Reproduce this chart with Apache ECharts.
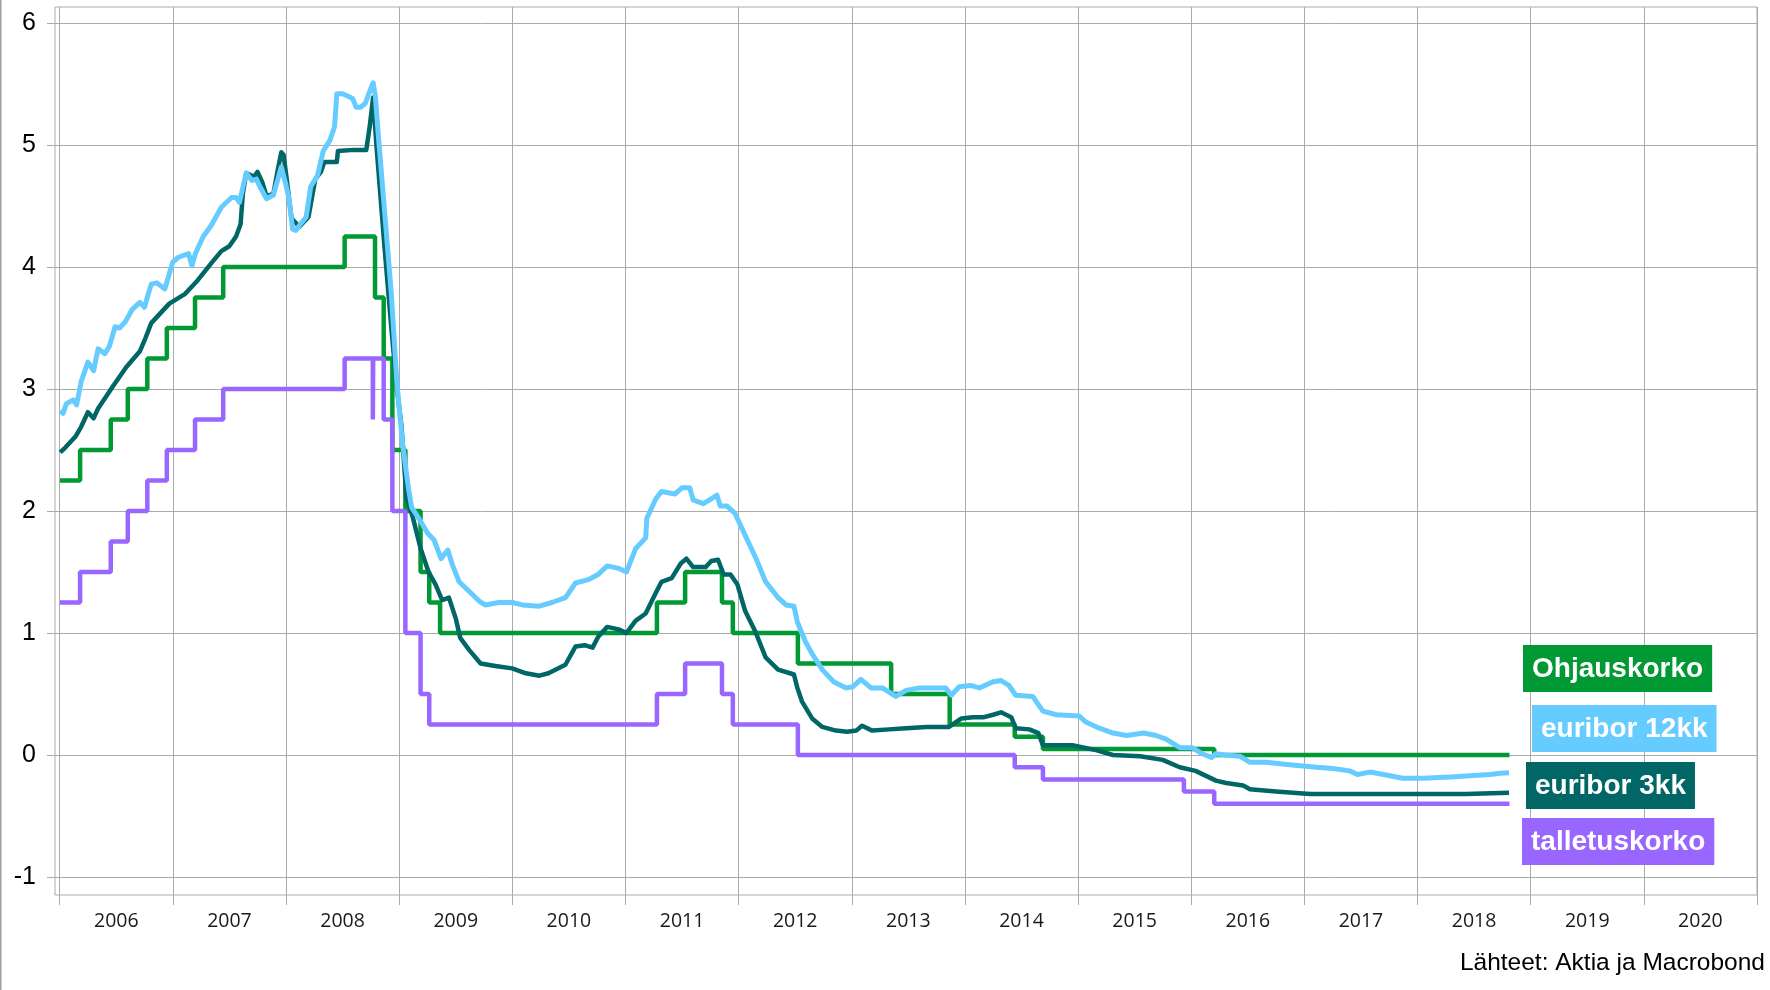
<!DOCTYPE html>
<html>
<head>
<meta charset="utf-8">
<script src="https://cdn.jsdelivr.net/npm/echarts@6/dist/echarts.min.js"></script>
<style>
html,body{margin:0;padding:0;background:#fff;}
#chart{width:1770px;height:990px;}
</style>
</head>
<body>
<div id="chart"></div>
<script>
// ---- DATA ----
const years = ['2006','2007','2008','2009','2010','2011','2012','2013','2014','2015','2016','2017','2018','2019','2020'];

// ECB main refinancing rate (Ohjauskorko): [date, value], value holds from date
const ohjauskorko = [
  ['2006-01-02',2.25],['2006-03-08',2.50],['2006-06-15',2.75],['2006-08-09',3.00],
  ['2006-10-11',3.25],['2006-12-13',3.50],['2007-03-14',3.75],['2007-06-13',4.00],
  ['2008-07-09',4.25],['2008-10-15',3.75],['2008-11-12',3.25],['2008-12-10',2.50],
  ['2009-01-21',2.00],['2009-03-11',1.50],['2009-04-08',1.25],['2009-05-13',1.00],
  ['2011-04-13',1.25],['2011-07-13',1.50],['2011-11-09',1.25],['2011-12-14',1.00],
  ['2012-07-11',0.75],['2013-05-08',0.50],['2013-11-13',0.25],['2014-06-11',0.15],
  ['2014-09-10',0.05],['2016-03-16',0.00],['2018-10-25',0.00]
];

// ECB deposit facility rate (talletuskorko)
const talletuskorko = [
  ['2006-01-02',1.25],['2006-03-08',1.50],['2006-06-15',1.75],['2006-08-09',2.00],
  ['2006-10-11',2.25],['2006-12-13',2.50],['2007-03-14',2.75],['2007-06-13',3.00],
  ['2008-07-09',3.25],['2008-10-08',2.75],['2008-10-09',3.25],['2008-11-12',2.75],
  ['2008-12-10',2.00],['2009-01-21',1.00],['2009-03-11',0.50],['2009-04-08',0.25],
  ['2011-04-13',0.50],['2011-07-13',0.75],['2011-11-09',0.50],['2011-12-14',0.25],
  ['2012-07-11',0.00],['2014-06-11',-0.10],['2014-09-10',-0.20],['2015-12-09',-0.30],
  ['2016-03-16',-0.40],['2018-10-25',-0.40]
];

// euribor 12kk: [decimal year, value]
const euribor12 = [
  [2006.005,2.82],[2006.03,2.80],[2006.06,2.88],[2006.12,2.91],[2006.15,2.87],[2006.19,3.06],
  [2006.25,3.22],[2006.30,3.15],[2006.34,3.33],[2006.40,3.29],[2006.44,3.35],[2006.49,3.51],
  [2006.53,3.50],[2006.58,3.55],[2006.64,3.65],[2006.71,3.71],[2006.75,3.67],[2006.81,3.86],
  [2006.86,3.87],[2006.93,3.82],[2007.00,4.04],[2007.05,4.08],[2007.14,4.11],[2007.17,4.01],
  [2007.20,4.11],[2007.27,4.25],[2007.34,4.34],[2007.43,4.49],[2007.52,4.57],[2007.56,4.57],
  [2007.59,4.53],[2007.65,4.77],[2007.70,4.71],[2007.74,4.72],[2007.77,4.66],[2007.83,4.56],
  [2007.89,4.59],[2007.93,4.72],[2007.96,4.82],[2008.00,4.68],[2008.03,4.55],[2008.06,4.31],
  [2008.09,4.30],[2008.12,4.34],[2008.18,4.41],[2008.22,4.66],[2008.28,4.75],[2008.33,4.95],
  [2008.39,5.04],[2008.43,5.15],[2008.45,5.42],[2008.50,5.42],[2008.55,5.40],[2008.59,5.38],
  [2008.62,5.31],[2008.66,5.31],[2008.70,5.34],[2008.74,5.44],[2008.77,5.51],[2008.79,5.40],
  [2008.81,5.15],[2008.87,4.47],[2008.93,3.79],[2008.98,3.05],[2009.03,2.55],[2009.08,2.20],
  [2009.11,2.03],[2009.18,1.93],[2009.25,1.82],[2009.31,1.76],[2009.37,1.61],[2009.43,1.68],
  [2009.47,1.56],[2009.53,1.42],[2009.62,1.34],[2009.71,1.26],[2009.76,1.23],[2009.88,1.25],
  [2010.00,1.25],[2010.09,1.23],[2010.24,1.22],[2010.35,1.25],[2010.47,1.29],[2010.56,1.41],
  [2010.68,1.44],[2010.76,1.48],[2010.84,1.55],[2010.94,1.53],[2011.01,1.50],[2011.09,1.69],
  [2011.18,1.78],[2011.19,1.94],[2011.27,2.10],[2011.32,2.16],[2011.44,2.14],[2011.50,2.19],
  [2011.57,2.19],[2011.60,2.09],[2011.69,2.06],[2011.76,2.10],[2011.81,2.13],[2011.84,2.04],
  [2011.90,2.04],[2011.97,1.98],[2012.06,1.80],[2012.16,1.60],[2012.24,1.42],[2012.35,1.29],
  [2012.42,1.23],[2012.49,1.22],[2012.52,1.09],[2012.59,0.93],[2012.65,0.83],[2012.74,0.70],
  [2012.84,0.60],[2012.95,0.55],[2013.01,0.56],[2013.08,0.62],[2013.17,0.55],[2013.27,0.55],
  [2013.39,0.48],[2013.48,0.53],[2013.60,0.55],[2013.71,0.55],[2013.83,0.55],[2013.88,0.49],
  [2013.95,0.56],[2014.05,0.57],[2014.13,0.55],[2014.25,0.60],[2014.32,0.61],[2014.39,0.57],
  [2014.45,0.49],[2014.60,0.48],[2014.69,0.36],[2014.81,0.33],[2015.01,0.32],[2015.07,0.27],
  [2015.19,0.22],[2015.31,0.18],[2015.43,0.16],[2015.58,0.18],[2015.69,0.16],[2015.78,0.13],
  [2015.90,0.06],[2016.01,0.06],[2016.10,0.01],[2016.18,-0.02],[2016.22,0.01],[2016.30,0.00],
  [2016.43,-0.01],[2016.52,-0.06],[2016.66,-0.06],[2016.87,-0.08],[2017.11,-0.10],[2017.25,-0.11],
  [2017.40,-0.13],[2017.47,-0.16],[2017.58,-0.14],[2017.70,-0.16],[2017.87,-0.19],[2018.05,-0.19],
  [2018.29,-0.18],[2018.46,-0.17],[2018.64,-0.16],[2018.73,-0.15],[2018.81,-0.145]
];

// euribor 3kk: [decimal year, value]
const euribor3 = [
  [2006.005,2.48],[2006.05,2.52],[2006.14,2.61],[2006.19,2.69],[2006.25,2.81],[2006.28,2.78],
  [2006.30,2.76],[2006.34,2.84],[2006.47,3.02],[2006.59,3.18],[2006.71,3.31],[2006.76,3.42],
  [2006.81,3.54],[2006.90,3.63],[2006.97,3.70],[2007.11,3.78],[2007.22,3.89],[2007.34,4.03],
  [2007.43,4.13],[2007.50,4.17],[2007.56,4.25],[2007.60,4.35],[2007.62,4.60],[2007.65,4.77],
  [2007.72,4.74],[2007.75,4.78],[2007.79,4.70],[2007.83,4.58],[2007.89,4.60],[2007.93,4.80],
  [2007.96,4.94],[2007.98,4.92],[2008.00,4.78],[2008.05,4.40],[2008.12,4.33],[2008.20,4.41],
  [2008.26,4.72],[2008.31,4.78],[2008.34,4.86],[2008.45,4.86],[2008.46,4.95],[2008.60,4.96],
  [2008.71,4.96],[2008.74,5.15],[2008.77,5.39],[2008.80,4.99],[2008.87,4.17],[2008.93,3.51],
  [2008.98,3.00],[2009.02,2.70],[2009.065,2.10],[2009.12,1.95],[2009.19,1.69],[2009.26,1.50],
  [2009.32,1.40],[2009.38,1.27],[2009.44,1.29],[2009.50,1.12],[2009.54,0.96],[2009.62,0.86],
  [2009.72,0.75],[2009.85,0.73],[2010.00,0.71],[2010.12,0.67],[2010.24,0.65],[2010.32,0.67],
  [2010.47,0.74],[2010.56,0.89],[2010.64,0.90],[2010.71,0.88],[2010.76,0.97],[2010.84,1.05],
  [2010.94,1.03],[2011.01,1.00],[2011.09,1.10],[2011.18,1.16],[2011.27,1.33],[2011.32,1.42],
  [2011.41,1.45],[2011.49,1.57],[2011.54,1.61],[2011.60,1.54],[2011.71,1.54],[2011.76,1.59],
  [2011.82,1.60],[2011.87,1.48],[2011.93,1.48],[2011.99,1.40],[2012.06,1.18],[2012.15,1.01],
  [2012.24,0.80],[2012.35,0.70],[2012.49,0.66],[2012.52,0.55],[2012.56,0.44],[2012.65,0.30],
  [2012.74,0.23],[2012.86,0.20],[2012.96,0.19],[2013.04,0.20],[2013.09,0.24],[2013.18,0.20],
  [2013.33,0.21],[2013.48,0.22],[2013.66,0.23],[2013.86,0.23],[2013.97,0.30],[2014.07,0.31],
  [2014.17,0.31],[2014.25,0.33],[2014.32,0.35],[2014.41,0.31],[2014.45,0.22],[2014.57,0.21],
  [2014.65,0.18],[2014.69,0.08],[2014.95,0.08],[2015.16,0.04],[2015.31,0.00],[2015.55,-0.01],
  [2015.75,-0.04],[2015.90,-0.10],[2016.04,-0.13],[2016.22,-0.21],[2016.31,-0.23],[2016.46,-0.25],
  [2016.52,-0.28],[2016.75,-0.30],[2017.05,-0.32],[2017.40,-0.32],[2017.99,-0.32],[2018.43,-0.32],
  [2018.81,-0.31]
];

const seriesNames = ['Ohjauskorko','euribor 12kk','euribor 3kk','talletuskorko'];
const seriesColors = ['#009933','#66CCFF','#006666','#9966FF'];
const sourceText = 'Lähteet: Aktia ja Macrobond';

// ---- helpers ----
function yearToTime(f){
  const y = Math.floor(f);
  const s = new Date(y,0,1).getTime(), e = new Date(y+1,0,1).getTime();
  return s + (f - y) * (e - s);
}
const toTime = d => new Date(d + 'T00:00:00').getTime();

const gridCol = '#ababab';
const chart = echarts.init(document.getElementById('chart'), null, {renderer:'canvas'});

const labelBoxes = [
  {i:0, x:1523, y:645},
  {i:1, x:1532, y:705},
  {i:2, x:1526, y:762},
  {i:3, x:1522, y:818}
];

chart.setOption({
  animation:false,
  backgroundColor:'#ffffff',
  grid:[
    {left:55, right:13, top:7, bottom:95, show:true, borderColor:gridCol, borderWidth:1, backgroundColor:'transparent'},
    {left:59.7, right:13, top:7, bottom:95},
    {left:55, right:13, top:23, bottom:113}
  ],
  xAxis:[
    {gridIndex:0, type:'value', show:false, min:0, max:1},
    {gridIndex:1, type:'category', data:years, boundaryGap:true, position:'bottom',
      axisLine:{show:false},
      axisTick:{show:true, length:10, lineStyle:{color:gridCol}},
      axisLabel:{fontFamily:'"Open Sans"', fontSize:19.5, color:'#1a1a1a', margin:16},
      splitLine:{show:true, lineStyle:{color:gridCol, width:1}}
    },
    {gridIndex:2, type:'time', show:false, min:toTime('2005-12-17'), max:toTime('2021-01-01')}
  ],
  yAxis:[
    {gridIndex:0, type:'value', show:false, min:0, max:1},
    {gridIndex:1, type:'value', show:false, min:0, max:1},
    {gridIndex:2, type:'value', min:-1, max:6, interval:1,
      axisLine:{show:false},
      axisTick:{show:true, length:8, lineStyle:{color:gridCol}},
      axisLabel:{fontFamily:'"Liberation Sans", Arial', fontSize:25, color:'#000', margin:19},
      splitLine:{show:true, lineStyle:{color:gridCol, width:1}}
    }
  ],
  series:[
    {name:seriesNames[0], type:'line', xAxisIndex:2, yAxisIndex:2, step:'end', symbol:'none',
      lineStyle:{color:seriesColors[0], width:4.5}, z:2,
      data: ohjauskorko.map(d=>[toTime(d[0]), d[1]])},
    {name:seriesNames[3], type:'line', xAxisIndex:2, yAxisIndex:2, step:'end', symbol:'none',
      lineStyle:{color:seriesColors[3], width:4.5}, z:3,
      data: talletuskorko.map(d=>[toTime(d[0]), d[1]])},
    {name:seriesNames[2], type:'line', xAxisIndex:2, yAxisIndex:2, symbol:'none',
      lineStyle:{color:seriesColors[2], width:4.5, join:'round'}, z:4,
      data: euribor3.map(d=>[yearToTime(d[0]), d[1]])},
    {name:seriesNames[1], type:'line', xAxisIndex:2, yAxisIndex:2, symbol:'none',
      lineStyle:{color:seriesColors[1], width:5, join:'round'}, z:5,
      data: euribor12.map(d=>[yearToTime(d[0]), d[1]])}
  ],
  graphic:[
    {type:'rect', left:0, top:0, shape:{width:1.5, height:990}, style:{fill:'#a0a0a0'}, silent:true},
    ...labelBoxes.map(b=>({
      type:'text', x:b.x, y:b.y, z:100,
      style:{text:seriesNames[b.i], fill:'#ffffff', font:'bold 28px "Liberation Sans", Arial',
        backgroundColor:seriesColors[b.i], padding:[10,9,9,9], align:'left', verticalAlign:'top'}
    })),
    {type:'text', right:5, top:951, z:100,
      style:{text:sourceText, fill:'#000', font:'24.5px "Liberation Sans", Arial'}}
  ]
});
</script>
</body>
</html>
